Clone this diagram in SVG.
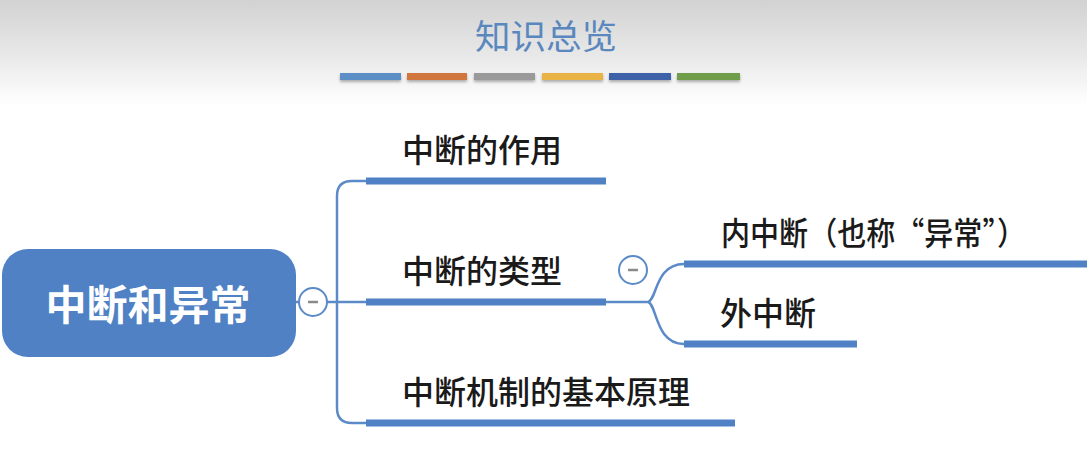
<svg xmlns="http://www.w3.org/2000/svg" width="1087" height="457" viewBox="0 0 1087 457">
<defs>
<linearGradient id="bg" x1="0" y1="0" x2="0" y2="1">
<stop offset="0" stop-color="#d2d2d2"/>
<stop offset="0.12" stop-color="#e8e8e8"/>
<stop offset="0.23" stop-color="#ffffff"/>
</linearGradient>
<filter id="sh" x="-10%" y="-50%" width="120%" height="250%">
<feDropShadow dx="0" dy="2" stdDeviation="1.5" flood-color="#000" flood-opacity="0.3"/>
</filter>
</defs>
<style>
.lbl{font-family:"Noto Sans CJK SC","Noto Sans",sans-serif;font-size:32px;font-weight:500;fill:#1a1a1a}
.thin{fill:none;stroke:#5b8ac8;stroke-width:2.5;stroke-linecap:round}
.bar{stroke:#4f81c4;stroke-width:7}
.tog circle{fill:#fff;stroke:#5b8ac8;stroke-width:2}
.tog line{stroke:#8a8a8a;stroke-width:2.5}
</style>
<rect x="0" y="0" width="1087" height="457" fill="url(#bg)"/>
<text x="546" y="49" text-anchor="middle" font-family="'Noto Sans CJK SC',sans-serif" font-size="34" fill="#5a87bd" textLength="142" lengthAdjust="spacingAndGlyphs">知识总览</text>
<g filter="url(#sh)">
<rect x="340" y="73" width="61" height="7" fill="#5b8fc5"/>
<rect x="407" y="73" width="60" height="7" fill="#d2763f"/>
<rect x="474" y="73" width="61" height="7" fill="#9a9a9a"/>
<rect x="542" y="73" width="61" height="7" fill="#eab344"/>
<rect x="609" y="73" width="62" height="7" fill="#3c62a8"/>
<rect x="677" y="73" width="63" height="7" fill="#6f9d4a"/>
</g>
<g id="connectors">
<path class="thin" d="M296,302 H300 M327,302 H366"/>
<path class="thin" d="M366,181 H352 Q337,181 337,196 V408 Q337,423 352,423 H366"/>
<path class="thin" d="M606,302 H648 C657,300 655,264 684,264 M648,302 C657,304 655,344 684,344"/>
</g>
<g id="root">
<rect x="2" y="249" width="294" height="108" rx="26" fill="#4f81c4"/>
<text x="148" y="320" text-anchor="middle" font-family="'Noto Sans CJK SC',sans-serif" font-size="41" font-weight="bold" fill="#fff">中断和异常</text>
</g>
<g id="toggle-root" class="tog"><circle cx="313" cy="302" r="14"/><line x1="308" y1="302" x2="318" y2="302"/></g>
<g id="n1">
<line class="bar" x1="366" y1="181" x2="606" y2="181"/>
<text class="lbl" x="402" y="162">中断的作用</text>
</g>
<g id="n2">
<line class="bar" x1="366" y1="302" x2="606" y2="302"/>
<text class="lbl" x="402" y="283">中断的类型</text>
</g>
<g id="toggle-n2" class="tog"><circle cx="633" cy="270" r="14"/><line x1="628" y1="270" x2="638" y2="270"/></g>
<g id="n3">
<line class="bar" x1="366" y1="423" x2="735" y2="423"/>
<text class="lbl" x="402" y="404">中断机制的基本原理</text>
</g>
<g id="n21">
<line class="bar" x1="684" y1="264" x2="1087" y2="264"/>
<text class="lbl" x="721" y="245" textLength="305" lengthAdjust="spacingAndGlyphs">内中断（也称“异常”）</text>
</g>
<g id="n22">
<line class="bar" x1="684" y1="344" x2="857" y2="344"/>
<text class="lbl" x="720" y="325">外中断</text>
</g>
</svg>
